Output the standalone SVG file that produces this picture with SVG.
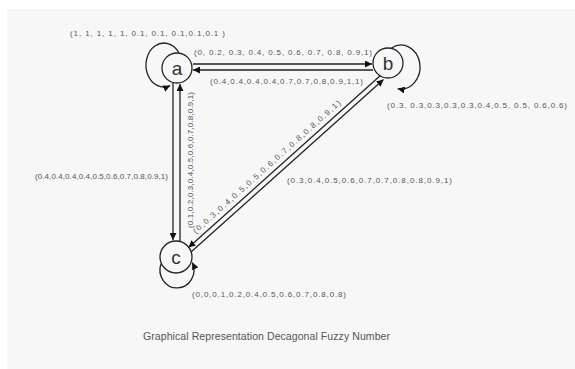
<svg xmlns="http://www.w3.org/2000/svg" width="575" height="369" viewBox="0 0 575 369">
<defs>
<style>
.lbl{font-family:"Liberation Sans",Arial,sans-serif;font-size:8px;fill:#555}
.node circle{fill:#f7f7f7;stroke:#222;stroke-width:1.3}
.node text{font-family:"Liberation Sans",Arial,sans-serif;font-size:19px;fill:#333;text-anchor:middle}
.edge{fill:none;stroke:#222;stroke-width:1.3;marker-end:url(#arr)}
.title{font-family:"Liberation Sans",Arial,sans-serif;font-size:10.5px;fill:#555}
</style>
<marker id="arr" viewBox="0 0 10 10" refX="10" refY="5" markerWidth="7" markerHeight="7" markerUnits="userSpaceOnUse" orient="auto">
<path d="M0,0 L10,5 L0,10 z" fill="#111"/>
</marker>
</defs>
<rect x="0" y="0" width="575" height="369" fill="#ffffff"/>
<rect x="7" y="9" width="568" height="360" fill="#f7f7f7"/>
<g id="connectors">
<path class="edge" d="M178.7,52.4 A18,22 0 1 0 170.2,85.7"/>
<path class="edge" d="M391.5,48 A19,22 0 1 1 397.7,88.7"/>
<path class="edge" d="M161,263.8 A17,18 0 1 0 192.4,262.4"/>
<path class="edge" d="M193,64 L372,64"/>
<path class="edge" d="M373,70 L193,70"/>
<path class="edge" d="M173,83 L173,240"/>
<path class="edge" d="M180,241 L180,84"/>
<path class="edge" d="M380.7,75.3 L188.5,247.5"/>
<path class="edge" d="M191,252 L383.5,79.5"/>
<text class="lbl" x="70" y="36" textLength="155" lengthAdjust="spacing">(1, 1, 1, 1, 1, 0.1, 0.1, 0.1,0.1,0.1 )</text>
<text class="lbl" x="194" y="55" textLength="178" lengthAdjust="spacing">(0, 0.2, 0.3, 0.4, 0.5, 0.6, 0.7, 0.8, 0.9,1)</text>
<text class="lbl" x="210" y="84" textLength="153" lengthAdjust="spacing">(0.4,0.4,0.4,0.4,0.7,0.7,0.8,0.9,1,1)</text>
<text class="lbl" x="387" y="108" textLength="180" lengthAdjust="spacing">(0.3, 0.3,0.3,0.3,0.3,0.4,0.5, 0.5, 0.6,0.6)</text>
<text class="lbl" x="35" y="179" textLength="133" lengthAdjust="spacing">(0.4,0.4,0.4,0.4,0.5,0.6,0.7,0.8,0.9,1)</text>
<text class="lbl" transform="translate(193,228) rotate(-90)" x="0" y="0" textLength="136" lengthAdjust="spacing">(0.1,0.2,0.3,0.4,0.5,0.6,0.7,0.8,0.9,1)</text>
<text class="lbl" transform="translate(196,234) rotate(-41.9)" x="0" y="0" textLength="195" lengthAdjust="spacing">(0,0.3,0.4,0.5,0.5,0.6,0.7,0.8,0.8,0.9,1)</text>
<text class="lbl" x="287" y="183" textLength="165" lengthAdjust="spacing">(0.3,0.4,0.5,0.6,0.7,0.7,0.8,0.8,0.9,1)</text>
<text class="lbl" x="192" y="297" textLength="154" lengthAdjust="spacing">(0,0,0.1,0.2,0.4,0.5,0.6,0.7,0.8,0.8)</text>
</g>
<g id="node-a" class="node">
<circle cx="177" cy="68" r="15"/>
<text x="177" y="74.5">a</text>
</g>
<g id="node-b" class="node">
<circle cx="388" cy="63" r="15"/>
<text x="388" y="70">b</text>
</g>
<g id="node-c" class="node">
<circle cx="176" cy="257" r="16"/>
<text x="176" y="263.5">c</text>
</g>
<text class="title" x="143" y="340" textLength="247" lengthAdjust="spacing">Graphical Representation Decagonal Fuzzy Number</text>
</svg>
